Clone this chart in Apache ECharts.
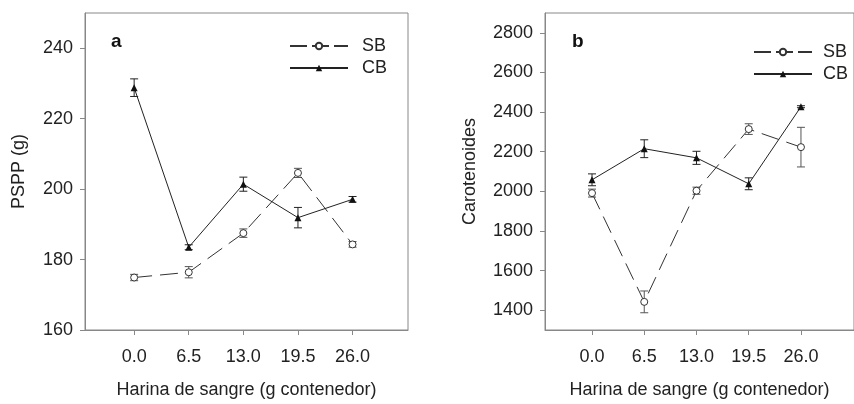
<!DOCTYPE html>
<html>
<head>
<meta charset="utf-8">
<script src="https://cdn.jsdelivr.net/npm/echarts@6/dist/echarts.min.js"></script>
<style>html,body{margin:0;padding:0;background:#fff}#c{width:854px;height:404px}</style>
</head>
<body>
<div id="c"></div>
<script>
// ---- data ----
var xValues = [0, 6.5, 13, 19.5, 26];
var xTickLabels = ['0.0', '6.5', '13.0', '19.5', '26.0'];
var aTicks = [160, 180, 200, 220, 240];
var bTicks = [1400, 1600, 1800, 2000, 2200, 2400, 2600, 2800];

var aSB = [174.9, 176.4, 187.5, 204.6, 184.3];
var aSBerr = [0.9, 1.6, 1.2, 1.3, 0.8];
var aCB = [228.8, 183.5, 201.4, 191.9, 197.1];
var aCBerr = [2.5, 0.7, 2.0, 2.9, 0.8];

var bSB = [1991, 1442, 2003, 2314, 2223];
var bSBerr = [20, 55, 18, 27, 100];
var bCB = [2058, 2215, 2169, 2038, 2427];
var bCBerr = [30, 45, 33, 30, 5];

var FONT = 'Liberation Sans, Arial, sans-serif';
var FS = 18;
var TXT = '#222';
var AX = '#888';

function pts(vals) { return vals.map(function (v, i) { return [xValues[i], v]; }); }
function errPts(vals, errs) { return vals.map(function (v, i) { return [xValues[i], v - errs[i], v + errs[i]]; }); }

function errSeries(xi, vals, errs, color) {
  return {
    type: 'custom', xAxisIndex: xi, yAxisIndex: xi, z: 1, silent: true,
    data: errPts(vals, errs),
    renderItem: function (params, api) {
      var lo = api.coord([api.value(0), api.value(1)]);
      var hi = api.coord([api.value(0), api.value(2)]);
      var w = 4;
      var st = { stroke: color, lineWidth: 1 };
      return { type: 'group', children: [
        { type: 'line', shape: { x1: lo[0], y1: lo[1], x2: hi[0], y2: hi[1] }, style: st },
        { type: 'line', shape: { x1: lo[0] - w, y1: lo[1], x2: lo[0] + w, y2: lo[1] }, style: st },
        { type: 'line', shape: { x1: hi[0] - w, y1: hi[1], x2: hi[0] + w, y2: hi[1] }, style: st }
      ]};
    }
  };
}

function sbLine(xi, vals) {
  return { name: 'SB', type: 'line', xAxisIndex: xi, yAxisIndex: xi, z: 3, data: pts(vals),
    symbol: 'circle', symbolSize: 7,
    lineStyle: { color: '#333', width: 1, type: [18, 8] },
    itemStyle: { color: '#fff', borderColor: '#333', borderWidth: 1 } };
}
function cbLine(xi, vals) {
  return { name: 'CB', type: 'line', xAxisIndex: xi, yAxisIndex: xi, z: 3, data: pts(vals),
    symbol: 'triangle', symbolSize: 7,
    lineStyle: { color: '#222', width: 1, type: 'solid' },
    itemStyle: { color: '#111' } };
}

function xAxisCfg(gi) {
  return {
    type: 'value', gridIndex: gi, min: -5.85, max: 32.6,
    name: 'Harina de sangre (g contenedor)', nameLocation: 'middle', nameGap: 51,
    nameTextStyle: { fontFamily: FONT, fontSize: FS, color: TXT },
    axisLine: { show: true, onZero: false, lineStyle: { color: AX } },
    axisTick: { show: true, length: 5, lineStyle: { color: AX }, customValues: xValues },
    axisLabel: { fontFamily: FONT, fontSize: FS, color: TXT, margin: 18, customValues: xValues,
      formatter: function (v) { var i = xValues.indexOf(v); return i >= 0 ? xTickLabels[i] : ''; } },
    splitLine: { show: false }
  };
}
function yAxisCfg(gi, mn, mx, ticks, name, gap) {
  return {
    type: 'value', gridIndex: gi, min: mn, max: mx,
    name: name, nameLocation: 'middle', nameGap: gap,
    nameTextStyle: { fontFamily: FONT, fontSize: FS, color: TXT },
    axisLine: { show: true, onZero: false, lineStyle: { color: AX } },
    axisTick: { show: true, length: 5, lineStyle: { color: AX }, customValues: ticks },
    axisLabel: { fontFamily: FONT, fontSize: FS, color: TXT, margin: 12, customValues: ticks,
      formatter: function (v) { return String(v); } },
    splitLine: { show: false }
  };
}
function legendCfg(left, top, padL) {
  return {
    data: [
      { name: 'SB', lineStyle: { type: [17, 5] } },
      { name: 'CB' }
    ],
    orient: 'vertical', left: left, top: top,
    itemWidth: 58, itemHeight: 8, itemGap: 4,
    textStyle: { fontFamily: FONT, fontSize: FS, color: TXT, padding: [0, 0, 0, padL] },
    selectedMode: false
  };
}

var chart = echarts.init(document.getElementById('c'), null, { renderer: 'canvas' });
chart.setOption({
  animation: false,
  backgroundColor: '#fff',
  title: [
    { text: 'a', left: 106, top: 27, textStyle: { fontFamily: FONT, fontSize: 19, fontWeight: 'bold', color: '#111' } },
    { text: 'b', left: 567, top: 27, textStyle: { fontFamily: FONT, fontSize: 19, fontWeight: 'bold', color: '#111' } }
  ],
  legend: [legendCfg(284, 32, 9), legendCfg(748, 38, 6)],
  grid: [
    { left: 85, top: 13, width: 323, height: 322, show: true, borderColor: AX, borderWidth: 1, containLabel: false },
    { left: 545, top: 13, width: 323, height: 322, show: true, borderColor: AX, borderWidth: 1, containLabel: false }
  ],
  xAxis: [xAxisCfg(0), xAxisCfg(1)],
  yAxis: [
    yAxisCfg(0, 160, 250, aTicks, 'PSPP (g)', 57),
    yAxisCfg(1, 1300, 2900, bTicks, 'Carotenoides', 66)
  ],
  series: [
    errSeries(0, aSB, aSBerr, '#555'),
    errSeries(0, aCB, aCBerr, '#222'),
    sbLine(0, aSB), cbLine(0, aCB),
    errSeries(1, bSB, bSBerr, '#555'),
    errSeries(1, bCB, bCBerr, '#222'),
    sbLine(1, bSB), cbLine(1, bCB)
  ]
});
</script>
</body>
</html>
